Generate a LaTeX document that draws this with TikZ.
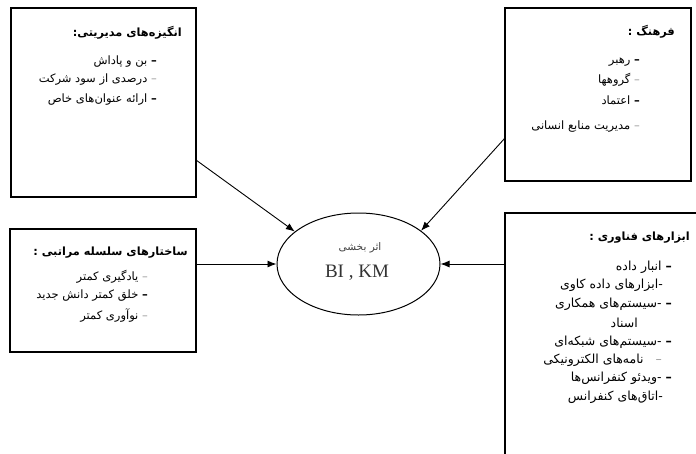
\documentclass[tikz,border=0pt]{standalone}
\usepackage{fontspec}
\setmainfont{Liberation Serif}
\newfontfamily\fa[Script=Arabic]{DejaVu Sans}
\TeXXeTstate=1
\usetikzlibrary{arrows, arrows.meta}
\usetikzlibrary{shapes.geometric}

\newcommand{\dashdark}{\textbf{–}}
\newcommand{\dashlight}{\textcolor{black!40}{–}}

\begin{document}
\begin{tikzpicture}[x=1pt, y=-1pt,
    box/.style={draw, line width=1.3pt, inner sep=0pt},
    head/.style={anchor=east, inner sep=0pt, font=\fa\bfseries\fontsize{11.3}{13}\selectfont},
    item/.style={anchor=east, inner sep=0pt, font=\fa\fontsize{11.5}{13}\selectfont},
    tool/.style={item, font=\fa\fontsize{12.5}{14}\selectfont},
    link/.style={-{Latex[length=9pt, width=7pt]}, line width=0.9pt}]

  \useasboundingbox (0,0) rectangle (696,453);
  \clip (0,0) rectangle (696,453);

  % boxes
  \node[box, minimum width=185pt, minimum height=189pt] (motive) at (103.5,102.5) {};
  \node[box, minimum width=186pt, minimum height=173pt] (culture) at (598,94.5) {};
  \node[box, minimum width=186pt, minimum height=123pt] (hier) at (103,290.5) {};
  \node[box, minimum width=215pt, minimum height=267pt] (tech) at (612.5,346.5) {};

  % centre
  \node[draw, ellipse, line width=1pt, minimum width=163pt, minimum height=102pt, inner sep=0pt] (effect) at (358.5,264) {};
  \node[inner sep=0pt, text=black!75, font=\fa\fontsize{10.5}{12}\selectfont] (effectfa) at (360,248) {\beginR اثر بخشی\endR};
  \node[inner sep=0pt, text=black!80, font=\fontsize{19}{22}\selectfont] (effecten) at (357,273) {BI , KM};

  % motives
  \node[head] (motivehd) at (182,33) {\beginR انگیزه‌های مدیریتی:\endR};
  \node[item] (motive1) at (157,62) {\beginR بن و پاداش\endR\ \dashdark};
  \node[item] (motive2) at (157,80) {\beginR درصدی از سود شرکت\endR\ \dashlight};
  \node[item] (motive3) at (157,100) {\beginR ارائه عنوان‌های خاص\endR\ \dashdark};

  % culture
  \node[head] (culturehd) at (675,32) {\beginR فرهنگ :\endR};
  \node[item] (culture1) at (640,62) {\beginR رهبر\endR\ \dashdark};
  \node[item] (culture2) at (640,80) {\beginR گروهها\endR\ \dashlight};
  \node[item] (culture3) at (640,100) {\beginR اعتماد\endR\ \dashdark};
  \node[item] (culture4) at (640,127) {\beginR مدیریت منابع انسانی\endR\ \dashlight};

  % hierarchy
  \node[head] (hierhd) at (188,253) {\beginR ساختارهای سلسله مراتبی :\endR};
  \node[item] (hier1) at (148,277) {\beginR یادگیری کمتر\endR\ \dashlight};
  \node[item] (hier2) at (148,296) {\beginR خلق کمتر دانش جدید\endR\ \dashdark};
  \node[item] (hier3) at (148,315) {\beginR نوآوری کمتر\endR\ \dashlight};

  % tools
  \node[head] (techhd) at (690,238) {\beginR ابزارهای فناوری :\endR};
  \node[tool] (tech1) at (672,267) {\beginR انبار داده\endR\ \dashdark};
  \node[tool] (tech2) at (663,285) {\beginR -ابزارهای داده کاوی\endR};
  \node[tool] (tech3) at (672,304) {\beginR -سیستم‌های همکاری\endR\ \dashdark};
  \node[tool] (tech4) at (638,323) {\beginR اسناد\endR};
  \node[tool] (tech5) at (672,342) {\beginR -سیستم‌های شبکه‌ای\endR\ \dashdark};
  \node[tool] (tech6) at (662,360) {\beginR نامه‌های الکترونیکی\endR\ \ \ \dashlight};
  \node[tool] (tech7) at (672,378) {\beginR -ویدئو کنفرانس‌ها\endR\ \dashdark};
  \node[tool] (tech8) at (663,397) {\beginR -اتاق‌های کنفرانس\endR};

  % arrows
  \coordinate (motiveout) at (196,160);
  \coordinate (cultureout) at (505,138);
  \draw[link] (motiveout) -- (effect.153);
  \draw[link] (cultureout) -- (effect.28);
  \draw[link] (hier.east |- effect.west) -- (effect.west);
  \draw[link] (tech.west |- effect.east) -- (effect.east);
\end{tikzpicture}
\end{document}
